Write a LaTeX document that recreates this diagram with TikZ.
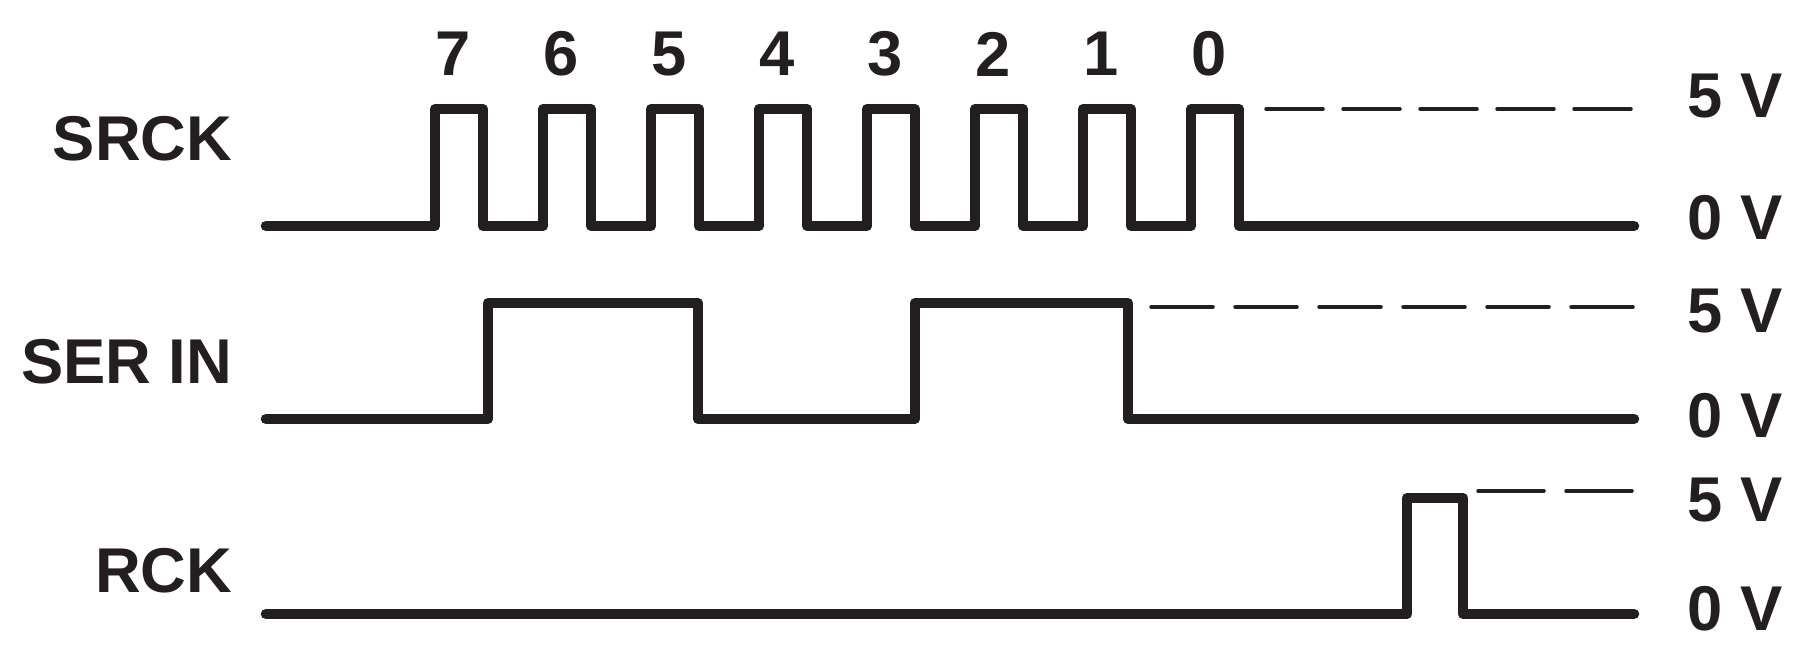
\documentclass[tikz,border=0pt]{standalone}
\usepackage{fontspec}
\setmainfont{Liberation Sans}
\usetikzlibrary{calc}

\definecolor{inkblack}{RGB}{35,31,32}

\begin{document}
\begin{tikzpicture}[x=0.01cm, y=-0.01cm,
    signal/.style={draw=inkblack, line width=3pt, line cap=round, line join=round},
    level/.style={draw=inkblack, line width=1pt, line cap=round},
    sig/.style={font=\bfseries\fontsize{18pt}{20pt}\selectfont, text=inkblack, inner sep=0pt}]

    \useasboundingbox (0,0) rectangle (1796,652);

    \node[sig, anchor=east] (srck) at (233,139) {SRCK};
    \node[sig, anchor=east] (serin) at (233,362) {SER IN};
    \node[sig, anchor=east] (rck) at (233,571) {RCK};

    \node[sig, anchor=west] (srckhi) at (1687,96) {5 V};
    \node[sig, anchor=west] (srcklo) at (1687,218) {0 V};
    \node[sig, anchor=west] (serinhi) at (1687,311) {5 V};
    \node[sig, anchor=west] (serinlo) at (1687,416) {0 V};
    \node[sig, anchor=west] (rckhi) at (1687,500) {5 V};
    \node[sig, anchor=west] (rcklo) at (1687,609) {0 V};

    \foreach \d [count=\i from 0] in {7,6,5,4,3,2,1,0}
        \node[sig] (bit\d) at ({453+108*\i},54) {\d};

    \draw[signal] (266,226) \foreach \i in {0,...,7} {
        -- ({435+108*\i},226) -- ({435+108*\i},109) -- ({483+108*\i},109) -- ({483+108*\i},226)
    } -- (1634,226);
    \foreach \k in {0,...,4}
        \draw[level] ({1266+77*\k},109) -- ++(57,0);

    \draw[signal] (266,419) -- (488,419) -- (488,303) -- (698,303) -- (698,419)
        -- (915,419) -- (915,303) -- (1128,303) -- (1128,419) -- (1634,419);
    \foreach \k in {0,...,5}
        \draw[level] ({1151+84*\k},307) -- ++(62,0);

    \draw[signal] (266,614) -- (1407,614) -- (1407,498) -- (1463,498) -- (1463,614) -- (1634,614);
    \foreach \k in {0,1}
        \draw[level] ({1478+88*\k},491) -- ++(66,0);

\end{tikzpicture}
\end{document}
